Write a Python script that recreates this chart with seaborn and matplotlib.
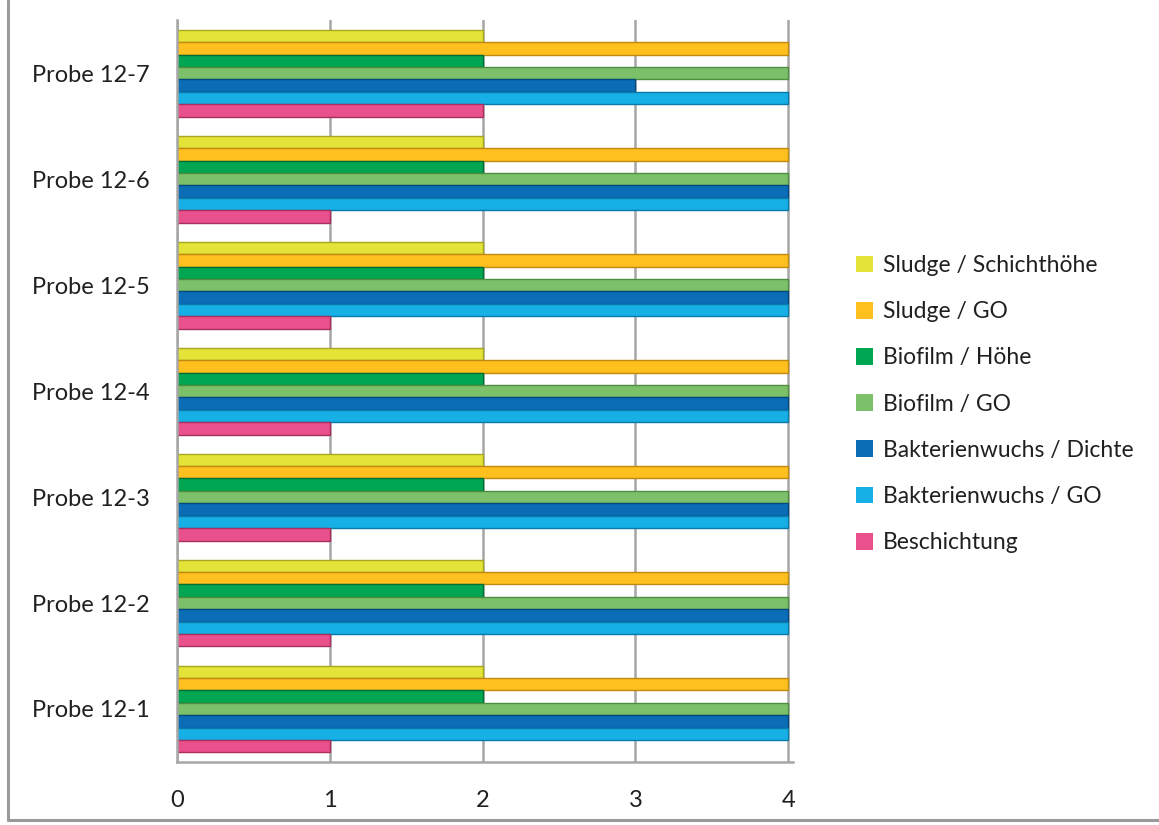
import matplotlib
matplotlib.use("Agg")
import matplotlib.pyplot as plt
import seaborn as sns
import pandas as pd
from matplotlib.lines import Line2D
from matplotlib.patches import Patch

categories = ["Probe 12-7", "Probe 12-6", "Probe 12-5", "Probe 12-4",
              "Probe 12-3", "Probe 12-2", "Probe 12-1"]
series = ["Sludge / Schichthöhe", "Sludge / GO", "Biofilm / Höhe", "Biofilm / GO",
          "Bakterienwuchs / Dichte", "Bakterienwuchs / GO", "Beschichtung"]
sludge_schicht = [2, 2, 2, 2, 2, 2, 2]
sludge_go = [4, 4, 4, 4, 4, 4, 4]
biofilm_hoehe = [2, 2, 2, 2, 2, 2, 2]
biofilm_go = [4, 4, 4, 4, 4, 4, 4]
bakt_dichte = [3, 4, 4, 4, 4, 4, 4]
bakt_go = [4, 4, 4, 4, 4, 4, 4]
beschichtung = [2, 1, 1, 1, 1, 1, 1]
colors = ["#E3E338", "#FDC01E", "#00A651", "#7CC169", "#0B6DB6", "#16B0E6", "#E9508C"]
edges = ["#A8A820", "#C08A10", "#006E34", "#4E8E40", "#064A80", "#0A7AA8", "#A8305E"]

values = [sludge_schicht, sludge_go, biofilm_hoehe, biofilm_go, bakt_dichte, bakt_go, beschichtung]
rows = []
for s, vals in zip(series, values):
    for c, v in zip(categories, vals):
        rows.append({"Probe": c, "Serie": s, "Wert": v})
df = pd.DataFrame(rows)

sns.set_theme(style="white")
plt.rcParams["font.family"] = ["Lato", "DejaVu Sans"]

fig = plt.figure(figsize=(11.59, 8.25), dpi=100)
ax = fig.add_axes([0.153, 0.0764, 0.531, 0.899])

sns.barplot(data=df, y="Probe", x="Wert", hue="Serie", order=categories,
            hue_order=series, palette=colors, orient="h", width=0.82,
            ax=ax, legend=False, errorbar=None, saturation=1)

# darker edge per series for a bevelled look
n = len(categories)
for i, patch in enumerate(ax.patches):
    si = i // n
    if si < len(series):
        patch.set_edgecolor(edges[si])
        patch.set_linewidth(1.0)

ax.set_xlim(0, 4.03)
ax.set_xticks([0, 1, 2, 3, 4])
ax.set_xticklabels(["0", "1", "2", "3", "4"])
ax.grid(axis="x", color="#A6A6A6", linewidth=1.8)
ax.set_axisbelow(True)
ax.set_xlabel("")
ax.set_ylabel("")
for side in ["top", "right"]:
    ax.spines[side].set_visible(False)
for side in ["left", "bottom"]:
    ax.spines[side].set_color("#A6A6A6")
    ax.spines[side].set_linewidth(1.8)
ax.tick_params(axis="x", length=0, pad=20, labelsize=17, colors="#202020")
ax.tick_params(axis="y", length=0, pad=20, labelsize=17, colors="#202020")

handles = [Patch(facecolor=c, edgecolor="none") for c in colors]
fig.legend(handles, series, loc="upper left", bbox_to_anchor=(0.721, 0.716),
           frameon=False, fontsize=16.5, handlelength=0.75, handleheight=0.75,
           handletextpad=0.4, labelspacing=1.1, labelcolor="#202020")

# outer image border (left and bottom)
fig.add_artist(Line2D([8/1159, 8/1159], [5/825, 1.0], color="#9A9A9A", lw=2.2))
fig.add_artist(Line2D([8/1159, 1.0], [5/825, 5/825], color="#9A9A9A", lw=2.2))

fig.savefig("out.png", dpi=100)
